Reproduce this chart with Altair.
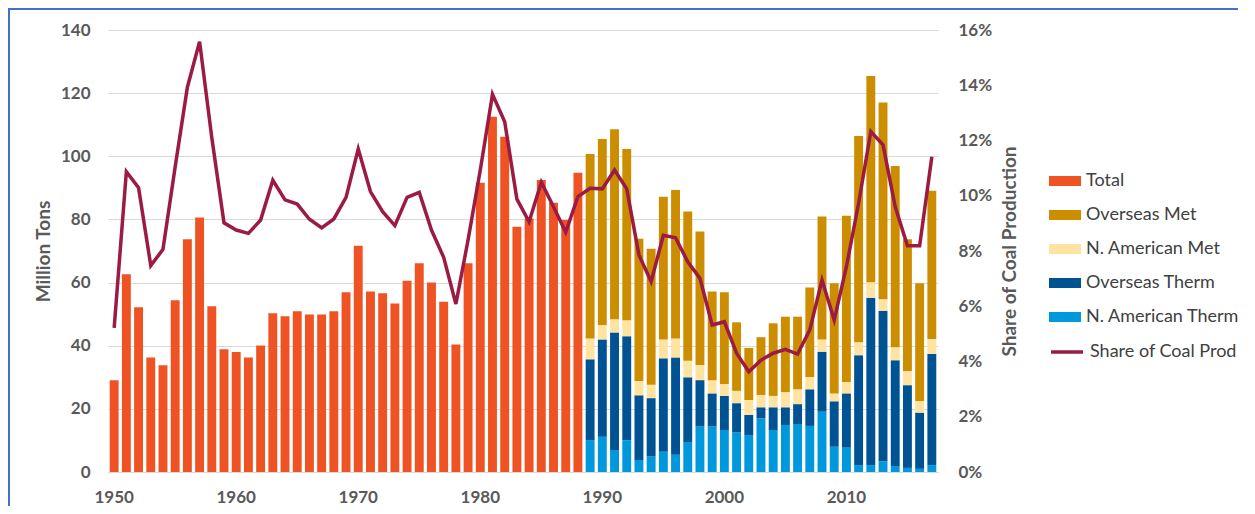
import altair as alt
import pandas as pd

# ---- data ----
total_years = list(range(1950, 1989))
total_vals = [29.1, 62.6, 52.2, 36.3, 33.8, 54.4, 73.7, 80.6, 52.5, 38.9,
              38.0, 36.3, 40.1, 50.3, 49.3, 50.9, 49.9, 49.9, 50.9, 56.9,
              71.7, 57.2, 56.6, 53.4, 60.6, 66.1, 60.0, 53.9, 40.4, 66.1,
              91.6, 112.5, 106.2, 77.7, 80.3, 92.5, 85.3, 79.8, 94.8]

split_years = list(range(1989, 2018))
# cumulative tops
cum_top = [100.7, 105.5, 108.6, 102.3, 73.9, 70.7, 87.2, 89.3, 82.5, 76.2,
           57.2, 56.9, 47.4, 39.3, 42.7, 47.1, 49.2, 49.2, 58.4, 80.9,
           59.8, 81.2, 106.4, 125.4, 117.0, 96.9, 73.7, 59.8, 89.1]
cum_namet = [42.3, 46.6, 48.4, 48.1, 28.8, 27.6, 42.0, 42.3, 35.2, 33.9,
             29.1, 27.9, 25.7, 22.8, 24.4, 24.1, 25.3, 26.2, 30.1, 42.0,
             24.9, 28.5, 41.1, 60.1, 54.7, 39.5, 32.0, 22.5, 42.1]
cum_ostherm = [35.7, 42.0, 44.2, 43.0, 24.3, 23.4, 36.0, 36.3, 30.0, 29.1,
               24.9, 24.1, 21.8, 18.1, 20.5, 20.5, 20.5, 21.5, 26.2, 38.1,
               22.4, 24.9, 37.0, 55.2, 51.1, 35.4, 27.5, 18.8, 37.4]
na_therm = [10.1, 11.2, 7.0, 10.1, 3.8, 4.9, 6.4, 5.5, 9.5, 14.4,
            14.4, 13.3, 12.5, 11.7, 17.0, 13.3, 14.9, 15.2, 14.6, 19.1,
            8.0, 7.7, 2.2, 2.2, 3.3, 1.9, 1.3, 1.0, 2.2]

share_years = list(range(1950, 2018))
share_pct = [5.22, 10.87, 10.29, 7.47, 8.06, 11.05, 13.93, 15.58, 12.1, 9.02,
             8.76, 8.64, 9.12, 10.56, 9.85, 9.70, 9.15, 8.84, 9.16, 9.94,
             11.69, 10.15, 9.42, 8.92, 9.94, 10.12, 8.76, 7.77, 6.08, 8.40,
             10.93, 13.67, 12.68, 9.88, 9.06, 10.49, 9.60, 8.68, 9.97, 10.27,
             10.25, 10.93, 10.25, 7.86, 6.89, 8.57, 8.48, 7.61, 7.01, 5.32,
             5.44, 4.30, 3.63, 4.05, 4.30, 4.44, 4.27, 5.14, 6.95, 5.50,
             7.43, 9.73, 12.32, 11.84, 9.60, 8.19, 8.19, 11.41]

categories = ["Total", "Overseas Met", "N. American Met", "Overseas Therm", "N. American Therm"]
colors = ["#F05323", "#CC8E00", "#FFE3A0", "#005392", "#0098DC"]
stack_order = {"N. American Therm": 0, "Overseas Therm": 1, "N. American Met": 2, "Overseas Met": 3, "Total": 0}

rows = []
for y, v in zip(total_years, total_vals):
    rows.append({"year": y, "cat": "Total", "val": v})
for i, y in enumerate(split_years):
    rows.append({"year": y, "cat": "N. American Therm", "val": na_therm[i]})
    rows.append({"year": y, "cat": "Overseas Therm", "val": round(cum_ostherm[i] - na_therm[i], 2)})
    rows.append({"year": y, "cat": "N. American Met", "val": round(cum_namet[i] - cum_ostherm[i], 2)})
    rows.append({"year": y, "cat": "Overseas Met", "val": round(cum_top[i] - cum_namet[i], 2)})
bars_df = pd.DataFrame(rows)
bars_df["ord"] = bars_df["cat"].map(stack_order)

line_df = pd.DataFrame({"year": share_years, "share": [p / 100 for p in share_pct],
                        "series": "Share of Coal Prod"})

FONT = "Lato"
GRAY = "#595959"

x_enc = alt.X("year:O", title=None,
              scale=alt.Scale(paddingInner=0.27, paddingOuter=0.14),
              axis=alt.Axis(values=[1950, 1960, 1970, 1980, 1990, 2000, 2010],
                            labelAngle=0, ticks=False, domainColor="#D9D9D9",
                            labelFont=FONT, labelFontSize=17, labelFontWeight="bold",
                            labelColor=GRAY, labelPadding=17, grid=False))

bars = alt.Chart(bars_df).mark_bar().encode(
    x=x_enc,
    y=alt.Y("val:Q", stack="zero", title="Million Tons",
            scale=alt.Scale(domain=[0, 140], nice=False),
            axis=alt.Axis(values=list(range(0, 141, 20)), ticks=False, domain=False,
                          gridColor="#D9D9D9", labelFont=FONT, labelFontSize=17,
                          labelFontWeight="bold", labelColor=GRAY, labelPadding=18,
                          titleFont=FONT, titleFontSize=19, titleFontWeight="bold",
                          titleColor=GRAY, titlePadding=7)),
    color=alt.Color("cat:N", title=None,
                    scale=alt.Scale(domain=categories, range=colors),
                    legend=alt.Legend(orient="none", legendX=941, legendY=135,
                                      symbolType="M-1,-0.3125H1V0.3125H-1Z",
                                      symbolSize=1024, symbolStrokeWidth=0,
                                      labelFont=FONT, labelFontSize=18, labelColor="#404040",
                                      rowPadding=9, labelOffset=5)),
    order=alt.Order("ord:Q"),
)

line = alt.Chart(line_df).mark_line(strokeWidth=3.5).encode(
    x=alt.X("year:O"),
    y=alt.Y("share:Q", title="Share of Coal Production",
            scale=alt.Scale(domain=[0, 0.16], nice=False),
            axis=alt.Axis(orient="right", values=[i / 100 for i in range(0, 17, 2)],
                          format=".0%", ticks=False, domain=False, grid=False,
                          labelFont=FONT, labelFontSize=17, labelFontWeight="bold",
                          labelColor=GRAY, labelPadding=20,
                          titleFont=FONT, titleFontSize=19, titleFontWeight="bold",
                          titleColor=GRAY, titleAngle=270, titlePadding=28)),
    stroke=alt.Stroke("series:N", title=None,
                      scale=alt.Scale(domain=["Share of Coal Prod"], range=["#9B1B42"]),
                      legend=alt.Legend(orient="none", legendX=941, legendY=304,
                                        symbolType="stroke", symbolSize=1024,
                                        symbolStrokeWidth=3.5,
                                        labelFont=FONT, labelFontSize=18, labelColor="#404040",
                                        labelOffset=5)),
)

# decorative blue frame around the chart (as in the source image)
frame_top = alt.Chart(line_df).mark_rule(color="#4472C4", strokeWidth=1.5).encode(
    x=alt.value(-100), x2=alt.value(1150), y=alt.value(-21))
frame_left = alt.Chart(line_df).mark_rule(color="#4472C4", strokeWidth=1.5).encode(
    x=alt.value(-99), y=alt.value(-21), y2=alt.value(480))

chart = alt.layer(bars, line, frame_top, frame_left).resolve_scale(
    y="independent", color="independent").properties(
    width=830, height=442,
    autosize=alt.AutoSizeParams(type="none"),
    padding={"left": 100, "top": 22, "right": 300, "bottom": 34},
).configure_view(stroke=None)

chart.save("out.html", embed_options={"renderer": "svg", "actions": False})
